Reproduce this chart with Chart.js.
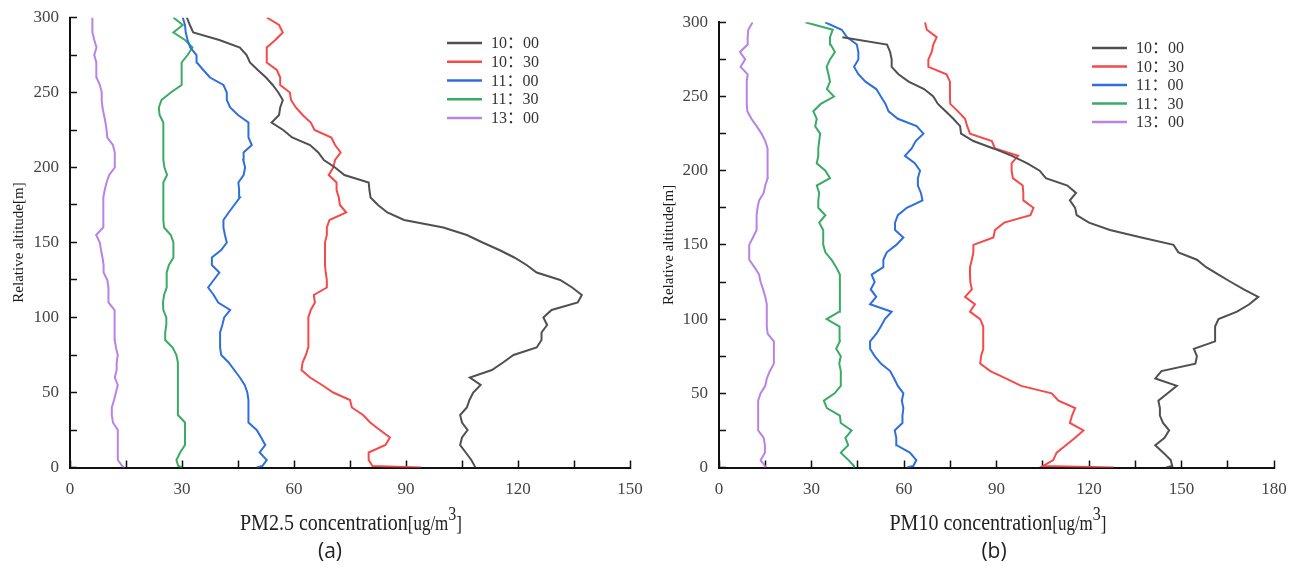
<!DOCTYPE html>
<html>
<head>
<meta charset="utf-8">
<script src="https://cdn.jsdelivr.net/npm/chart.js@4.4.1/dist/chart.umd.min.js"></script>
<style>
  body { margin: 0; background: #fff; width: 1301px; height: 570px; position: relative; overflow: hidden; }
  .panel { position: absolute; top: 0; height: 505px; }
  .xtitle { position: absolute; top: 511px; font-family: "Liberation Serif", serif; font-size: 20px; color: #222; white-space: nowrap; transform: translateX(-50%) scaleY(1.2); }
  .xtitle .unit { font-size: 17px; }
  .xtitle sup { font-size: 16px; vertical-align: 0; position: relative; top: -9px; }
  .caption { position: absolute; top: 536px; font-family: "Open Sans", sans-serif; font-size: 21px; color: #222; transform: translateX(-50%); }
</style>
</head>
<body>
<div class="panel" style="left:0;width:650px"><canvas id="pm25"></canvas></div>
<div class="panel" style="left:650px;width:651px"><canvas id="pm10"></canvas></div>
<div class="xtitle" style="left:351px">PM2.5 concentration<span class="unit">[ug/m<sup>3</sup>]</span></div>
<div class="xtitle" style="left:998px">PM10 concentration<span class="unit">[ug/m<sup>3</sup>]</span></div>
<div class="caption" style="left:330px">(a)</div>
<div class="caption" style="left:994px">(b)</div>
<script>
// sampling altitudes (m) shared by every profile
const altitude = [0, 1, 5, 10, 15, 20, 25, 30, 35, 40, 45, 50, 55, 60, 65, 70, 75, 80, 85, 90, 95,
  100, 105, 110, 115, 120, 125, 130, 135, 140, 145, 150, 155, 160, 165, 170, 175, 180, 185, 190, 195,
  200, 205, 210, 215, 220, 225, 230, 235, 240, 245, 250, 255, 260, 265, 270, 275, 280, 285, 290, 295, 300];

const times = ["10：00", "10：30", "11：00", "11：30", "13：00"];

// PM2.5 profiles (ug/m3)
const pm25_1000 = [108.5, 108.4, 107.5, 106.0, 104.5, 105.0, 106.5, 105.0, 104.5, 106.3, 107.0, 108.0, 110.0, 107.1, 113.0, 116.0, 118.8, 125.0, 126.3, 126.3, 127.8,
  126.8, 129.0, 136.0, 137.1, 134.5, 131.3, 125.0, 122.3, 119.0, 115.0, 110.5, 106.3, 100.0, 89.5, 85.0, 82.5, 80.5, 80.2, 80.0, 73.5,
  71.0, 68.0, 66.5, 64.3, 59.5, 57.1, 54.0, 56.0, 56.3, 57.0, 55.8, 54.3, 52.5, 50.3, 48.2, 47.3, 45.5, 40.0, 33.0, 32.1, 31.3];
const pm25_1030 = [94.0, 81.0, 80.0, 80.0, 84.5, 85.7, 83.0, 80.4, 78.5, 75.5, 75.0, 70.5, 67.5, 64.3, 62.0, 62.3, 63.2, 63.8, 63.8, 63.8, 63.8,
  64.0, 64.5, 65.6, 65.3, 68.8, 68.8, 68.5, 68.3, 68.3, 68.3, 68.3, 68.8, 68.8, 69.5, 74.0, 72.3, 72.0, 71.4, 71.4, 69.3,
  70.5, 71.0, 72.5, 71.0, 70.0, 65.5, 64.5, 62.3, 60.5, 59.2, 58.9, 56.3, 56.3, 55.4, 52.7, 52.7, 52.7, 55.0, 57.0, 56.0, 52.7];
const pm25_1100 = [50.0, 51.5, 52.7, 50.8, 52.3, 51.2, 50.0, 47.8, 47.8, 47.8, 47.8, 47.5, 46.8, 45.5, 44.0, 42.5, 40.5, 40.2, 40.2, 40.2, 40.8,
  41.3, 42.9, 39.7, 38.5, 37.0, 38.5, 40.0, 38.0, 38.0, 40.5, 42.0, 41.5, 41.1, 41.1, 42.5, 44.0, 45.5, 45.3, 45.1, 46.5,
  46.9, 46.4, 46.5, 48.7, 47.8, 47.8, 47.8, 45.0, 42.9, 42.0, 42.0, 41.1, 37.5, 35.7, 34.0, 33.9, 32.2, 31.5, 31.0, 30.8, 30.2];
const pm25_1130 = [30.0, 29.0, 28.5, 29.5, 30.8, 30.8, 30.8, 30.8, 28.9, 28.9, 28.9, 28.9, 28.9, 28.9, 28.9, 28.9, 28.5, 27.5, 25.5, 25.5, 25.8,
  25.8, 25.0, 24.9, 25.2, 25.9, 25.9, 25.9, 26.5, 27.7, 27.7, 27.7, 27.0, 25.2, 25.0, 25.0, 25.0, 25.0, 25.0, 25.0, 26.0,
  25.3, 25.0, 25.0, 25.0, 25.0, 25.0, 25.0, 24.0, 23.8, 24.5, 27.0, 29.9, 29.9, 29.9, 29.9, 31.5, 32.8, 30.8, 27.7, 30.2, 27.7];
const pm25_1300 = [14.5, 14.0, 12.8, 12.8, 12.8, 12.8, 12.8, 11.5, 11.2, 11.2, 11.8, 12.3, 12.8, 12.0, 12.5, 12.5, 12.8, 12.3, 12.0, 12.0, 12.0,
  12.0, 11.8, 10.3, 10.3, 10.3, 10.0, 9.0, 9.0, 8.7, 8.3, 8.0, 7.0, 8.9, 8.9, 8.9, 8.9, 9.0, 9.3, 9.8, 10.5,
  12.0, 12.0, 12.0, 11.5, 10.0, 9.8, 9.5, 9.1, 8.7, 8.5, 8.5, 8.0, 7.1, 7.1, 7.0, 6.5, 7.1, 6.5, 6.0, 6.0, 6.0];

// PM10 profiles (ug/m3); the 10:00 flight topped out below 300 m
const pm10_1000 = [145.0, 147.0, 146.5, 144.1, 141.5, 144.5, 146.0, 144.0, 143.0, 143.0, 142.5, 145.5, 148.5, 141.5, 143.5, 154.5, 155.0, 154.0, 160.9, 160.9, 160.9,
  162.0, 168.0, 172.0, 174.9, 170.2, 166.0, 162.0, 158.0, 155.0, 149.0, 147.4, 137.0, 126.8, 120.0, 116.0, 115.5, 113.8, 115.8, 113.0, 106.0,
  104.0, 100.0, 95.0, 89.0, 82.5, 78.5, 78.2, 76.0, 73.5, 71.0, 69.5, 66.5, 61.5, 58.2, 56.0, 56.0, 55.5, 54.5, 40.0, null, null];
const pm10_1030 = [128.0, 105.0, 108.4, 109.5, 112.5, 115.5, 118.2, 113.8, 114.5, 115.5, 110.1, 107.9, 98.0, 93.0, 88.0, 84.7, 85.0, 85.7, 85.7, 85.7, 85.7,
  84.7, 81.4, 83.0, 79.8, 82.0, 81.5, 81.4, 81.4, 82.0, 82.5, 82.5, 89.0, 89.5, 92.5, 101.0, 102.0, 98.7, 98.7, 98.5, 95.3,
  94.9, 94.9, 97.0, 89.5, 88.5, 81.4, 80.5, 79.8, 77.5, 75.0, 74.9, 74.9, 74.9, 73.8, 67.9, 67.9, 69.0, 69.5, 70.6, 67.4, 66.8];
const pm10_1100 = [61.0, 63.0, 64.0, 61.9, 57.6, 57.5, 57.0, 59.5, 59.5, 59.8, 59.3, 59.8, 58.0, 56.8, 55.5, 52.5, 50.5, 49.0, 49.0, 51.0, 52.5,
  53.8, 56.0, 49.0, 51.0, 49.2, 50.5, 49.5, 53.3, 53.3, 54.4, 57.5, 59.8, 57.1, 57.1, 58.0, 60.9, 66.0, 65.5, 64.5, 64.5,
  65.2, 63.5, 60.3, 62.5, 63.8, 66.3, 64.1, 58.0, 55.0, 54.0, 52.5, 51.0, 47.5, 45.2, 43.8, 45.2, 45.2, 44.7, 41.5, 39.8, 34.4];
const pm10_1130 = [44.0, 43.8, 42.0, 39.5, 41.9, 41.0, 43.0, 39.5, 39.2, 35.0, 34.0, 37.5, 39.5, 39.5, 39.5, 39.0, 39.5, 38.0, 39.2, 39.2, 39.0,
  34.9, 39.0, 39.2, 39.2, 39.2, 39.2, 39.2, 38.0, 36.5, 34.5, 33.8, 33.8, 33.8, 32.5, 34.5, 32.2, 32.2, 32.5, 31.7, 36.0,
  34.5, 31.7, 32.2, 32.2, 32.5, 32.8, 31.2, 31.7, 30.6, 33.0, 37.3, 35.0, 36.0, 35.5, 34.9, 36.0, 37.6, 36.2, 36.0, 36.9, 28.0];
const pm10_1300 = [14.9, 14.9, 13.5, 14.9, 14.9, 14.5, 12.7, 12.7, 12.7, 12.7, 12.7, 13.5, 15.0, 15.5, 16.5, 17.8, 17.8, 17.8, 17.8, 15.8, 15.5,
  15.5, 15.5, 15.5, 15.0, 14.3, 13.5, 13.0, 11.5, 9.8, 9.8, 9.8, 11.0, 12.2, 12.2, 12.2, 12.5, 13.0, 14.5, 15.0, 15.8,
  15.8, 15.8, 15.8, 15.6, 15.0, 13.8, 12.2, 10.5, 9.2, 9.0, 9.0, 9.0, 9.0, 9.3, 7.0, 8.5, 6.8, 9.3, 9.3, 9.5, 10.9];

const lineColors = ["#505050", "#f64a4a", "#2f6fdc", "#3aab64", "#b883e6"];
const serif = '"Liberation Serif", "Noto Sans CJK SC", serif';

function profile(values) {
  const pts = [];
  values.forEach((v, i) => {
    if (v !== null) pts.push({ x: v, y: altitude[i] });
  });
  return pts;
}

// stacked legend drawn inside the plot, top right
const timeLegend = {
  id: "timeLegend",
  afterDatasetsDraw(chart, args, opts) {
    const ctx = chart.ctx;
    ctx.save();
    ctx.font = "16px " + serif;
    ctx.textBaseline = "middle";
    chart.data.datasets.forEach((ds, i) => {
      const y = opts.y + i * opts.step;
      ctx.strokeStyle = ds.borderColor;
      ctx.lineWidth = 2.5;
      ctx.beginPath();
      ctx.moveTo(opts.x, y);
      ctx.lineTo(opts.x + 35, y);
      ctx.stroke();
      ctx.fillStyle = "#333";
      ctx.fillText(ds.label, opts.x + 44, y + 1);
    });
    ctx.restore();
  },
};

function axisGrid() {
  return { drawOnChartArea: false, tickLength: -7, tickColor: "#111", tickWidth: 1.5 };
}

function makeChart(id, series, xMax, cfg) {
  const datasets = series.map((s, i) => ({
    label: times[i],
    data: profile(s),
    borderColor: lineColors[i],
    borderWidth: 2,
    pointRadius: 0,
    showLine: true,
    tension: 0,
  }));

  return new Chart(document.getElementById(id), {
    type: "scatter",
    data: { datasets },
    plugins: [timeLegend],
    options: {
      responsive: true,
      maintainAspectRatio: false,
      animation: false,
      layout: { padding: { left: 0, top: cfg.top, right: cfg.right, bottom: 0 } },
      plugins: {
        legend: { display: false },
        tooltip: { enabled: false },
        timeLegend: cfg.legend,
      },
      scales: {
        x: {
          type: "linear",
          min: 0,
          max: xMax,
          ticks: {
            stepSize: 15,
            autoSkip: false,
            maxRotation: 0,
            padding: 19,
            color: "#444",
            font: { family: serif, size: 17 },
            callback: (v) => (v % 30 === 0 ? v : ""),
          },
          grid: axisGrid(),
          border: { color: "#111", width: 2 },
          // fixed box so the plot area lands where it should
          afterFit: (s) => {
            s.height = 37.5;
            s.paddingLeft = 4;
            s.paddingRight = 4;
          },
        },
        y: {
          type: "linear",
          min: 0,
          max: 300,
          ticks: {
            stepSize: 25,
            autoSkip: false,
            padding: 18,
            color: "#444",
            font: { family: serif, size: 17 },
            callback: (v) => (v % 50 === 0 ? v : ""),
          },
          grid: axisGrid(),
          border: { color: "#111", width: 2 },
          title: {
            display: true,
            text: "Relative altitude[m]",
            color: "#1a1a1a",
            font: { family: serif, size: 15 },
            padding: { top: 10, bottom: 0 },
          },
          afterFit: (s) => {
            s.width = cfg.yWidth;
            s.paddingTop = 4;
            s.paddingBottom = 4;
          },
        },
      },
    },
  });
}

makeChart("pm25", [pm25_1000, pm25_1030, pm25_1100, pm25_1130, pm25_1300], 150, {
  top: 17.5, right: 20, yWidth: 70,
  legend: { x: 447, y: 43, step: 18.75 },
});

makeChart("pm10", [pm10_1000, pm10_1030, pm10_1100, pm10_1130, pm10_1300], 180, {
  top: 22.3, right: 27, yWidth: 69,
  legend: { x: 442, y: 48, step: 18.5 },
});
</script>
</body>
</html>
